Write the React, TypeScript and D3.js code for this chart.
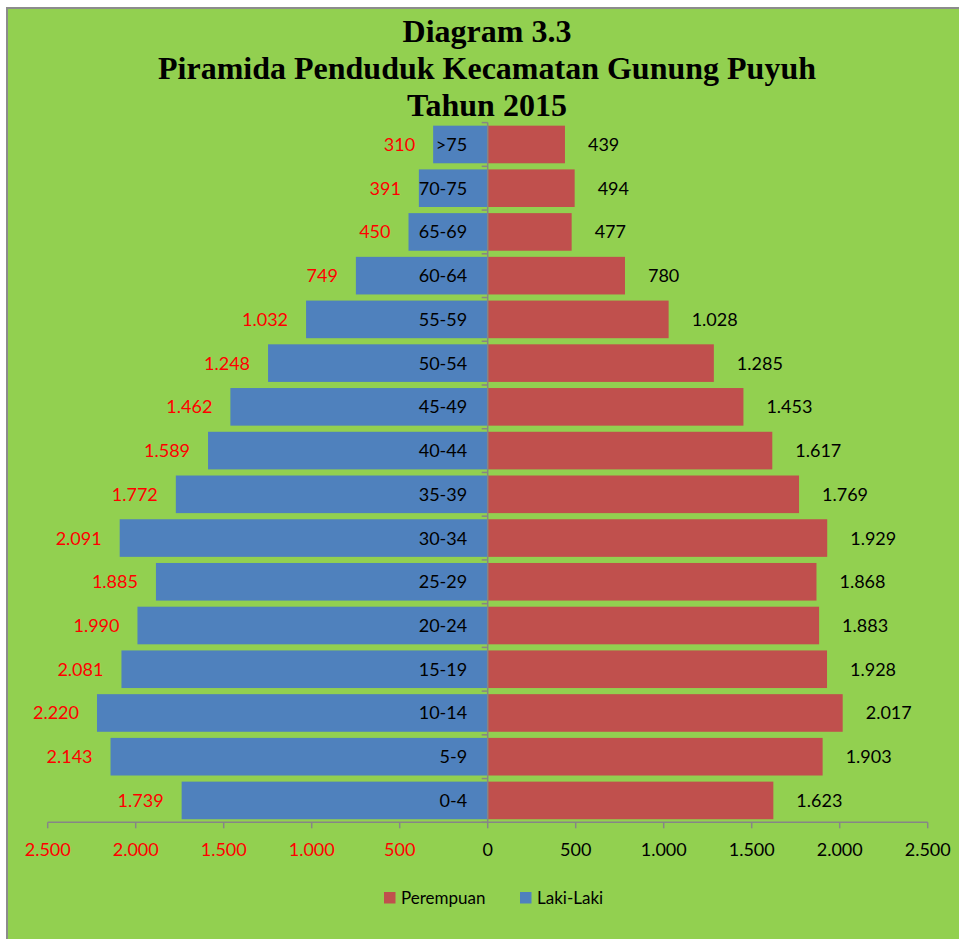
import React from "react";
import * as d3 from "d3";

const ageGroups = [">75", "70-75", "65-69", "60-64", "55-59", "50-54", "45-49", "40-44", "35-39", "30-34", "25-29", "20-24", "15-19", "10-14", "5-9", "0-4"];
const lakiLaki = [310, 391, 450, 749, 1032, 1248, 1462, 1589, 1772, 2091, 1885, 1990, 2081, 2220, 2143, 1739];
const perempuan = [439, 494, 477, 780, 1028, 1285, 1453, 1617, 1769, 1929, 1868, 1883, 1928, 2017, 1903, 1623];
const xTicks = [-2500, -2000, -1500, -1000, -500, 0, 500, 1000, 1500, 2000, 2500];
const titleLines = ["Diagram 3.3", "Piramida Penduduk Kecamatan Gunung Puyuh", "Tahun 2015"];

const W = 959;
const H = 939;
const GREEN = "#92D050";
const BLUE = "#4F81BD";
const RED = "#C0504D";
const AXIS = "#868686";
const FONT = "Lato, 'Open Sans', sans-serif";

const loc = d3.formatLocale({ decimal: ",", thousands: ".", grouping: [3], currency: ["", ""] });
const fmt = loc.format(",d");

export default function App() {
  const x = d3.scaleLinear().domain([-2500, 2500]).range([47.7, 927.7]);
  const y = d3.scaleBand<string>().domain(ageGroups).range([122.6, 822.3]).paddingInner(0.14).paddingOuter(0.07);
  const x0 = x(0);
  const step = y.step();
  const top = 122.6;
  const bottom = 822.3;

  return (
    <div style={{ position: "absolute", left: 0, top: 0, width: W, height: H, overflow: "hidden" }}>
      <svg width={W} height={H} style={{ display: "block" }}>
        <rect x={0} y={0} width={W} height={H} fill="#ffffff" />
        <rect x={7} y={8} width={W} height={H} fill={GREEN} stroke="#8c8c8c" strokeWidth={2} />

        {titleLines.map((t, i) => (
          <text key={t} x={487} y={42 + i * 37} textAnchor="middle" fontFamily="'Liberation Serif', 'Times New Roman', serif" fontWeight="bold" fontSize={32} fill="#000">
            {t}
          </text>
        ))}

        {ageGroups.map((g, i) => {
          const yb = y(g) as number;
          const bh = y.bandwidth();
          const cy = yb + bh / 2;
          const xm = x(-lakiLaki[i]);
          const xf = x(perempuan[i]);
          return (
            <g key={g}>
              <rect x={xm} y={yb} width={x0 - xm} height={bh} fill={BLUE} />
              <rect x={x0} y={yb} width={xf - x0} height={bh} fill={RED} />
              <text x={xm - 18} y={cy} dy="0.36em" textAnchor="end" fontFamily={FONT} fontSize={18} fill="#FF0000">
                {fmt(lakiLaki[i])}
              </text>
              <text x={xf + 23} y={cy} dy="0.36em" textAnchor="start" fontFamily={FONT} fontSize={18} fill="#000">
                {fmt(perempuan[i])}
              </text>
              <text x={x0 - 20.5} y={cy} dy="0.36em" textAnchor="end" fontFamily={FONT} fontSize={18} fill="#000">
                {g}
              </text>
            </g>
          );
        })}

        {/* vertical category axis */}
        <line x1={x0} x2={x0} y1={top} y2={bottom} stroke={AXIS} strokeWidth={1.5} />
        {d3.range(ageGroups.length + 1).map((k) => {
          const yy = top + k * step;
          return <line key={"ct" + k} x1={x0 - 6} x2={x0} y1={yy} y2={yy} stroke={AXIS} strokeWidth={1.5} />;
        })}

        {/* horizontal value axis */}
        <line x1={x(-2500)} x2={x(2500)} y1={bottom} y2={bottom} stroke={AXIS} strokeWidth={1.5} />
        {xTicks.map((t) => (
          <g key={"xt" + t}>
            <line x1={x(t)} x2={x(t)} y1={bottom} y2={bottom + 6} stroke={AXIS} strokeWidth={1.5} />
            <text x={x(t)} y={856} textAnchor="middle" fontFamily={FONT} fontSize={18} fill={t < 0 ? "#FF0000" : "#000"}>
              {fmt(Math.abs(t))}
            </text>
          </g>
        ))}

        {/* legend */}
        <rect x={384} y={892} width={11.5} height={11.5} fill={RED} />
        <text x={401} y={903.5} fontFamily={FONT} fontSize={17} fill="#000">Perempuan</text>
        <rect x={520} y={892} width={11.5} height={11.5} fill={BLUE} />
        <text x={537} y={903.5} fontFamily={FONT} fontSize={17} fill="#000">Laki-Laki</text>
      </svg>
    </div>
  );
}
